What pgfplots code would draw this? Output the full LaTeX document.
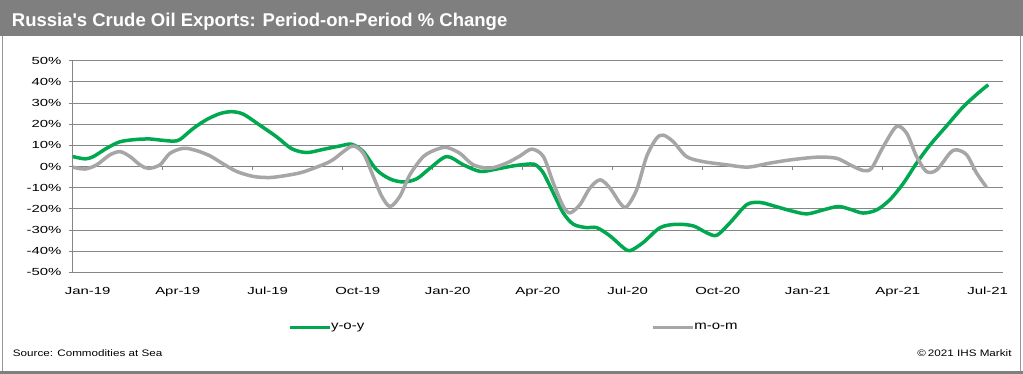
\documentclass[border=0pt]{standalone}
\usepackage{pgfplots}
\pgfplotsset{compat=1.18}
\usepackage{fontspec}
\setmainfont{Liberation Sans}
\definecolor{ihsgreen}{RGB}{0,168,79}
\definecolor{momgray}{RGB}{166,166,166}
\definecolor{gridgray}{RGB}{134,134,134}
\definecolor{titlegray}{RGB}{127,127,127}
\definecolor{framegray}{RGB}{150,150,150}
\newcommand\wx[1]{\scalebox{1.45}[1]{#1}}
\newcommand\wl[1]{\scalebox{1.25}[1]{#1}}
\newcommand\ws[1]{\scalebox{1.24}[1]{#1}}
\begin{document}
\begin{tikzpicture}[x=1pt,y=1pt]
\path[use as bounding box] (0,0) rectangle (1023,374);
\fill[white] (0,0) rectangle (1023,374);
\fill[titlegray] (0,338) rectangle (1023,374);
\draw[framegray, line width=1.5pt] (2.5,338) -- (2.5,2) -- (1020.5,2) -- (1020.5,338);
\fill[titlegray] (0,0) rectangle (1023,3);
\node[anchor=base west, inner sep=0pt, text=white, font=\fontsize{18.5}{22}\selectfont\bfseries] at (11.7,347.3) {Russia\textquotesingle s Crude Oil Exports: Period-on-Period \% Change};
\node[anchor=base west, inner sep=0pt, font=\fontsize{9.4}{11}\selectfont] at (12.7,17.3) {\ws{Source: Commodities at Sea}};
\node[anchor=base east, inner sep=0pt, font=\fontsize{9.4}{11}\selectfont] at (1011.7,17.3) {\ws{\textcopyright\,2021 IHS Markit}};
\begin{axis}[
  at={(72.7pt,101.7pt)}, anchor=south west,
  scale only axis, width=930pt, height=211.6pt,
  xmin=0, xmax=31, ymin=-50, ymax=50,
  axis x line*=bottom, axis y line*=left,
  x axis line style={draw=none},
  y axis line style={draw=gridgray, line width=0.9pt},
  ytick={-50,-40,-30,-20,-10,0,10,20,30,40,50},
  yticklabels={{\wx{-50\%}},{\wx{-40\%}},{\wx{-30\%}},{\wx{-20\%}},{\wx{-10\%}},{\wx{0\%}},{\wx{10\%}},{\wx{20\%}},{\wx{30\%}},{\wx{40\%}},{\wx{50\%}}},
  ymajorgrids, grid style={gridgray, line width=0.8pt},
  ytick style={gridgray, line width=0.8pt},
  tick align=outside, major tick length=4pt,
  yticklabel style={anchor=east, inner sep=0pt, xshift=-7pt},
  xtick={0.5,3.5,6.5,9.5,12.5,15.5,18.5,21.5,24.5,27.5,30.5},
  xticklabels={{\wx{Jan-19}},{\wx{Apr-19}},{\wx{Jul-19}},{\wx{Oct-19}},{\wx{Jan-20}},{\wx{Apr-20}},{\wx{Jul-20}},{\wx{Oct-20}},{\wx{Jan-21}},{\wx{Apr-21}},{\wx{Jul-21}}},
  xtick style={draw=none},
  xticklabel style={anchor=base, inner sep=0pt, yshift=-18pt},
  ticklabel style={font=\fontsize{10.3}{12}\selectfont},
  legend columns=2,
  legend style={at={(axis description cs:0.2315,-0.26)}, anchor=west, draw=none, fill=none,
    inner sep=0pt, outer sep=0pt, nodes={inner sep=0pt}, font=\fontsize{12}{14}\selectfont,
    /tikz/every even column/.append style={column sep=287pt}},
  legend image code/.code={\draw[#1, line width=3pt] (0pt,0pt) -- (40pt,0pt);},
  legend cell align=left,
]
\draw[titlegray, line width=1.6pt] (axis cs:0,0) -- (axis cs:31,0);
\pgfplotsinvokeforeach{3,6,...,30}{\draw[gridgray, line width=0.8pt] (axis cs:#1,0) -- ++(0pt,-3.5pt);}
\addplot[ihsgreen, line width=3.5pt, smooth, line join=round] coordinates {
(0.0,4.7) (0.41,3.6) (0.69,4.7) (1.13,8.6) (1.58,11.7) (2.13,12.8) (2.58,13) (2.91,12.5) (3.35,12) (3.58,12.8)
(4.02,18) (4.47,22.2) (4.91,25) (5.3,25.9) (5.69,24.7) (6.24,19.5) (6.8,14) (7.3,8.4) (7.8,6.6) (8.35,8.1)
(8.91,9.7) (9.3,10.5) (9.69,7) (10.13,-1.6) (10.58,-5.9) (11.02,-7.3) (11.47,-5.8) (11.91,-0.8) (12.47,4.7)
(13.02,0.8) (13.58,-2.3) (14.13,-1.2) (14.69,0.3) (15.24,1.2) (15.45,0.6) (15.69,-3.1) (16.02,-12.5) (16.35,-21.9)
(16.69,-27.3) (17.13,-28.9) (17.47,-28.9) (17.91,-32.8) (18.35,-38.3) (18.58,-39.8) (19.02,-35.9) (19.58,-28.9)
(20.13,-27.3) (20.69,-28.1) (21.13,-31.3) (21.47,-32.5) (21.91,-26.6) (22.47,-18) (22.91,-17) (23.24,-18.1)
(23.91,-20.8) (24.47,-22.4) (25.02,-20.5) (25.52,-18.9) (25.91,-20.2) (26.35,-22) (26.8,-20.5) (27.24,-15.7)
(27.69,-7.9) (28.13,1.6) (28.58,10.2) (29.13,19.2) (29.69,28.3) (30.24,35.4) (30.52,38.6)
};
\addlegendentry{\wl{y-o-y}}
\addplot[momgray, line width=3.5pt, smooth, line join=round] coordinates {
(0,-0.3) (0.41,-1.2) (0.8,0.8) (1.24,5.5) (1.58,7) (1.91,4.7) (2.24,0.8) (2.52,-0.9) (2.91,0.8) (3.24,6.2)
(3.69,8.6) (4.13,7.5) (4.58,5) (5.02,1.2) (5.46,-2.3) (6.02,-4.7) (6.58,-5.2) (7.13,-4.2) (7.7,-2.5) (8.57,2.3)
(9.02,7) (9.35,9.7) (9.69,6.2) (10.02,-4.7) (10.3,-14) (10.58,-18.9) (10.91,-14) (11.24,-3.9) (11.69,4.7)
(12.13,8.1) (12.47,9) (12.91,6.2) (13.35,0.8) (13.91,-0.8) (14.46,1.6) (14.91,5) (15.3,8.2) (15.69,4.7)
(16.02,-7.8) (16.35,-18.8) (16.58,-21.9) (16.91,-18) (17.24,-10.2) (17.58,-6.3) (17.91,-10.2) (18.24,-17.2)
(18.46,-19.1) (18.8,-10.9) (19.13,4.7) (19.46,13.3) (19.69,14.8) (20.02,11.7) (20.46,4.7) (21.02,2.3)
(21.8,0.8) (22.5,-0.3) (23.24,1.6) (23.91,3.1) (24.8,4.4) (25.46,3.9) (25.91,0.8) (26.35,-1.9) (26.63,-0.8)
(27.02,9.4) (27.46,18.9) (27.8,15.7) (28.13,4.7) (28.46,-2.4) (28.8,-1.6) (29.24,6.3) (29.46,7.9) (29.8,5.5)
(30.13,-3.1) (30.46,-9.8)
};
\addlegendentry{\wl{m-o-m}}
\end{axis}
\end{tikzpicture}
\end{document}
